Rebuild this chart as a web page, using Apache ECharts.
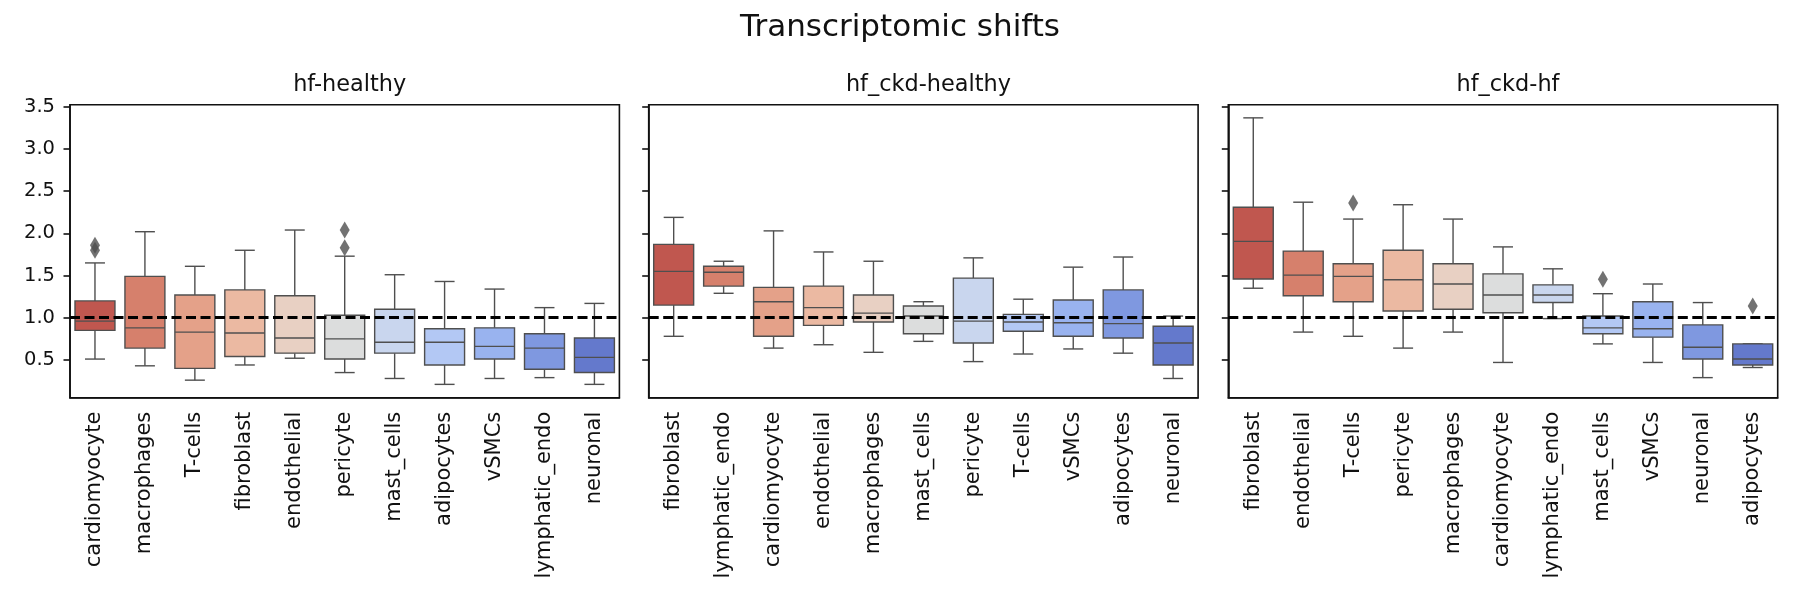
<!DOCTYPE html>
<html>
<head>
<meta charset="utf-8">
<title>Transcriptomic shifts</title>
<script src="https://cdn.jsdelivr.net/npm/echarts@6.0.0/dist/echarts.min.js"></script>
<style>
    html,body{margin:0;padding:0;background:#fff;}
    #chart01{width:1800px;height:600px;}
</style>
</head>
<body>
<div id="chart01"></div>
<script>
// y ticks (shared y axis)
var yTicks = [0.5, 1.0, 1.5, 2.0, 2.5, 3.0, 3.5];
var panelTitles = ['hf-healthy', 'hf_ckd-healthy', 'hf_ckd-hf'];

// box stats per category: [low whisker, q1, median, q3, high whisker]
var hfHealthyCats = ['cardiomyocyte','macrophages','T-cells','fibroblast','endothelial','pericyte','mast_cells','adipocytes','vSMCs','lymphatic_endo','neuronal'];
var hfHealthyStats = [
    [0.51, 0.85, 0.96, 1.20, 1.65],
    [0.43, 0.64, 0.88, 1.49, 2.02],
    [0.26, 0.40, 0.83, 1.27, 1.61],
    [0.44, 0.54, 0.82, 1.33, 1.80],
    [0.52, 0.58, 0.76, 1.26, 2.04],
    [0.35, 0.51, 0.75, 1.03, 1.73],
    [0.28, 0.58, 0.71, 1.10, 1.51],
    [0.21, 0.44, 0.71, 0.87, 1.43],
    [0.28, 0.51, 0.66, 0.88, 1.34],
    [0.29, 0.39, 0.64, 0.81, 1.12],
    [0.21, 0.35, 0.53, 0.76, 1.17]
];
// outliers: [category index, value]
var hfHealthyOut = [[0, 1.86], [0, 1.80], [5, 2.04], [5, 1.83]];

var ckdHealthyCats = ['fibroblast','lymphatic_endo','cardiomyocyte','endothelial','macrophages','mast_cells','pericyte','T-cells','vSMCs','adipocytes','neuronal'];
var ckdHealthyStats = [
    [0.78, 1.15, 1.55, 1.87, 2.19],
    [1.29, 1.375, 1.54, 1.61, 1.67],
    [0.64, 0.78, 1.19, 1.36, 2.03],
    [0.68, 0.91, 1.12, 1.375, 1.78],
    [0.59, 0.95, 1.055, 1.27, 1.67],
    [0.72, 0.81, 1.02, 1.14, 1.19],
    [0.48, 0.70, 0.96, 1.47, 1.71],
    [0.57, 0.84, 0.95, 1.04, 1.22],
    [0.63, 0.78, 0.94, 1.21, 1.60],
    [0.58, 0.76, 0.93, 1.33, 1.72],
    [0.28, 0.44, 0.70, 0.90, 1.02]
];
var ckdHealthyOut = [];

var ckdHfCats = ['fibroblast','endothelial','T-cells','pericyte','macrophages','cardiomyocyte','lymphatic_endo','mast_cells','vSMCs','neuronal','adipocytes'];
var ckdHfStats = [
    [1.35, 1.46, 1.905, 2.31, 3.37],
    [0.83, 1.26, 1.505, 1.79, 2.37],
    [0.78, 1.19, 1.49, 1.64, 2.17],
    [0.64, 1.08, 1.45, 1.80, 2.34],
    [0.83, 1.10, 1.40, 1.64, 2.17],
    [0.47, 1.06, 1.27, 1.52, 1.84],
    [0.99, 1.18, 1.27, 1.39, 1.58],
    [0.69, 0.81, 0.88, 1.02, 1.285],
    [0.47, 0.77, 0.87, 1.19, 1.40],
    [0.29, 0.51, 0.65, 0.915, 1.18],
    [0.41, 0.44, 0.51, 0.69, 0.69]
];
var ckdHfOut = [[2, 2.36], [7, 1.455], [10, 1.14]];

var refLine = 1.0;

$ready();
function $ready(){
    var palette = ['#c0574f','#d6806c','#e4a189','#ebb9a2','#e8d0c3','#dcdddd','#c9d6ee','#b3c8f4','#99b3ef','#7f98e0','#6479cc'];
    var edge = '#4f4f4f', ink = '#111';
    var panels = [
        {cats: hfHealthyCats, stats: hfHealthyStats, out: hfHealthyOut},
        {cats: ckdHealthyCats, stats: ckdHealthyStats, out: ckdHealthyOut},
        {cats: ckdHfCats, stats: ckdHfStats, out: ckdHfOut}
    ];
    var lefts = [70, 648.7, 1228.3], w = 549.4;

    function renderBox(params, api){
        var idx = api.value(0);
        var low = api.coord([idx, api.value(1)]);
        var q1 = api.coord([idx, api.value(2)]);
        var med = api.coord([idx, api.value(3)]);
        var q3 = api.coord([idx, api.value(4)]);
        var high = api.coord([idx, api.value(5)]);
        var bw = api.size([1, 0])[0] * 0.8, cw = bw / 2;
        var x = low[0];
        var ls = {stroke: edge, lineWidth: 1.4};
        return {
            type: 'group',
            children: [
                {type:'line', shape:{x1:x, y1:q3[1], x2:x, y2:high[1]}, style:ls},
                {type:'line', shape:{x1:x, y1:q1[1], x2:x, y2:low[1]}, style:ls},
                {type:'line', shape:{x1:x-cw/2, y1:high[1], x2:x+cw/2, y2:high[1]}, style:ls},
                {type:'line', shape:{x1:x-cw/2, y1:low[1], x2:x+cw/2, y2:low[1]}, style:ls},
                {type:'rect', shape:{x:x-bw/2, y:q3[1], width:bw, height:q1[1]-q3[1]},
                    style:{fill: palette[idx], stroke: edge, lineWidth: 1.4}},
                {type:'line', shape:{x1:x-bw/2, y1:med[1], x2:x+bw/2, y2:med[1]}, style:ls}
            ]
        };
    }

    var grid = [], xAxis = [], yAxis = [], series = [], title = [];
    title.push({
        text: 'Transcriptomic shifts', left: 'center', top: 7,
        textStyle: {fontFamily: 'DejaVu Sans', fontSize: 31, fontWeight: 'normal', color: ink}
    });
    for(var p=0; p<panels.length; p++){
        var pn = panels[p];
        grid.push({
            left: lefts[p], width: w, top: 104.7, height: 293,
            show: true, borderColor: ink, borderWidth: 1.6, backgroundColor: 'transparent'
        });
        title.push({
            text: panelTitles[p], left: lefts[p] + w/2, textAlign: 'center', top: 69,
            textStyle: {fontFamily: 'DejaVu Sans', fontSize: 22.4, fontWeight: 'normal', color: ink}
        });
        xAxis.push({
            type: 'category', gridIndex: p, data: pn.cats, boundaryGap: true,
            axisLine: {lineStyle: {color: ink, width: 1.6}},
            axisTick: {alignWithLabel: true, length: 6.5, lineStyle: {color: ink, width: 1.6}},
            axisLabel: {rotate: 90, margin: 14, interval: 0, color: ink,
                fontFamily: 'DejaVu Sans', fontSize: 21}
        });
        yAxis.push({
            type: 'value', gridIndex: p, min: 0.052, max: 3.526,
            axisLine: {show: true, lineStyle: {color: ink, width: 1.6}},
            axisTick: {show: true, length: 6.5, customValues: yTicks, lineStyle: {color: ink, width: 1.6}},
            axisLabel: {show: p === 0, customValues: yTicks, margin: 15, color: ink,
                fontFamily: 'DejaVu Sans', fontSize: 19.5,
                formatter: function(v){ return v.toFixed(1); }},
            splitLine: {show: false}
        });
        var boxData = [];
        for(var i=0; i<pn.stats.length; i++){
            boxData.push([i].concat(pn.stats[i]));
        }
        series.push({
            type: 'custom', xAxisIndex: p, yAxisIndex: p,
            renderItem: renderBox,
            encode: {x: 0, y: [1, 2, 3, 4, 5]},
            data: boxData,
            z: 2,
            markLine: {
                silent: true, symbol: 'none', label: {show: false},
                lineStyle: {color: '#000', type: [10, 4.5], width: 3.2},
                data: [{yAxis: refLine}],
                z: 5
            }
        });
        series.push({
            type: 'scatter', xAxisIndex: p, yAxisIndex: p,
            symbol: 'diamond', symbolSize: [10, 17],
            itemStyle: {color: edge},
            data: pn.out,
            z: 3
        });
    }

    var myChart = echarts.init(document.getElementById('chart01'));
    myChart.setOption({
        animation: false,
        title: title,
        grid: grid,
        xAxis: xAxis,
        yAxis: yAxis,
        series: series
    });
}
</script>
</body>
</html>
